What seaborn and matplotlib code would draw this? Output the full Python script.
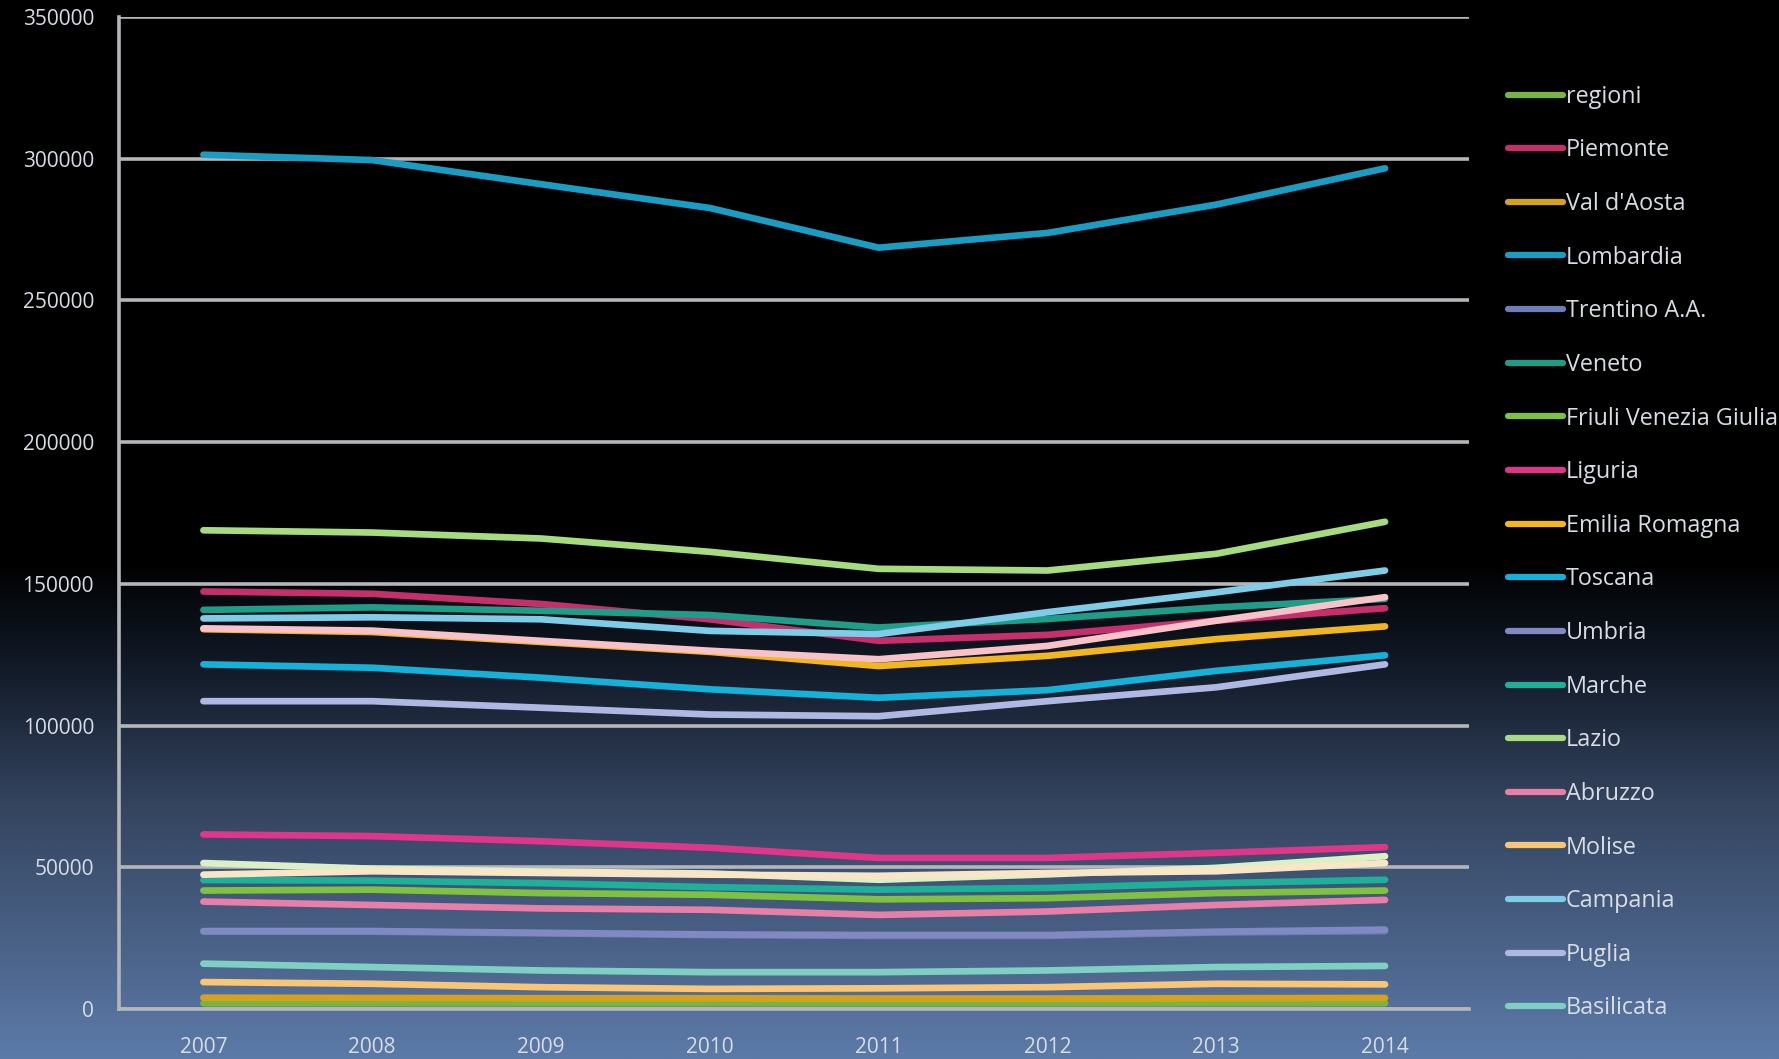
import numpy as np
import pandas as pd
import matplotlib
matplotlib.use("Agg")
import matplotlib.pyplot as plt
from matplotlib.colors import LinearSegmentedColormap
from matplotlib.ticker import FixedLocator, NullFormatter
import seaborn as sns

# ── Data ───────────────────────────────────────────────────────────────────────
anni = ["2007", "2008", "2009", "2010", "2011", "2012", "2013", "2014"]

regioni     = [2007, 2008, 2009, 2010, 2011, 2012, 2013, 2014]
piemonte    = [147300, 146500, 142900, 137500, 129900, 132000, 137000, 141400]
val_daosta  = [4000, 3900, 3800, 3800, 3700, 3700, 3800, 3900]
lombardia   = [301400, 299500, 291000, 282600, 268600, 273800, 283800, 296600]
trentino    = [27300, 27300, 26700, 26100, 25800, 25800, 27000, 27500]
veneto      = [140800, 141700, 140500, 139000, 134600, 137600, 141700, 144700]
friuli      = [41800, 42100, 40900, 40300, 38700, 39100, 40900, 41800]
liguria     = [61600, 61000, 59200, 56900, 53300, 53300, 55100, 57100]
emilia      = [134000, 133000, 129500, 126000, 121000, 124600, 130500, 135000]
toscana     = [121600, 120400, 116900, 112800, 109800, 112500, 119300, 124800]
umbria      = [27500, 27500, 26900, 26300, 26100, 26100, 27300, 28000]
marche      = [45500, 45300, 44400, 43000, 42100, 42700, 44400, 45600]
lazio       = [168900, 168100, 166000, 161300, 155300, 154700, 160600, 171900]
abruzzo     = [37900, 36700, 35500, 35000, 33200, 34400, 36700, 38500]
molise      = [9500, 8900, 7700, 7100, 7300, 7700, 8900, 8700]
campania    = [137800, 138200, 137500, 133400, 132300, 140000, 147000, 154700]
puglia      = [108600, 108600, 106300, 103900, 103300, 108600, 113500, 121600]
basilicata  = [16000, 14800, 13600, 13000, 13000, 13600, 14800, 15200]
calabria    = [51500, 49500, 48500, 47800, 45600, 47500, 49800, 53900]
sicilia     = [134300, 133500, 129900, 126400, 123400, 128100, 137000, 145300]
sardegna    = [47400, 48600, 48000, 47400, 47000, 48000, 48600, 51500]

serie = [
    ("regioni", regioni, "#78b443"),
    ("Piemonte", piemonte, "#c42f6c"),
    ("Val d'Aosta", val_daosta, "#d6a21e"),
    ("Lombardia", lombardia, "#1b9cc2"),
    ("Trentino A.A.", trentino, "#6f7fb6"),
    ("Veneto", veneto, "#1f9d88"),
    ("Friuli Venezia Giulia", friuli, "#7fc241"),
    ("Liguria", liguria, "#df3689"),
    ("Emilia Romagna", emilia, "#f2b620"),
    ("Toscana", toscana, "#16b1d8"),
    ("Umbria", umbria, "#8189c2"),
    ("Marche", marche, "#1fb09a"),
    ("Lazio", lazio, "#a6db80"),
    ("Abruzzo", abruzzo, "#e77fa8"),
    ("Molise", molise, "#f8c677"),
    ("Campania", campania, "#7fcce9"),
    ("Puglia", puglia, "#afb8e2"),
    ("Basilicata", basilicata, "#7fd0c3"),
    ("Calabria", calabria, "#dcefc6"),
    ("Sicilia", sicilia, "#f8c2c8"),
    ("Sardegna", sardegna, "#f9e6c6"),
]
N_LEGENDA = 18   # the legend in the original stops at Basilicata

# ── Style ──────────────────────────────────────────────────────────────────────
TEXT_COLOR = "#d8dce4"
GRID_COLOR = "#b4b6ba"

sns.set_style("white")
plt.rcParams["font.family"] = ["Open Sans", "DejaVu Sans"]

fig = plt.figure(figsize=(17.79, 10.59), dpi=100)

# background gradient: black on top fading to slate blue at the bottom
bg = fig.add_axes([0, 0, 1, 1], zorder=-1)
cmap = LinearSegmentedColormap.from_list(
    "bg", [(0.0, "#000000"), (0.53, "#000000"), (0.63, "#121a28"),
           (0.76, "#34445f"), (1.0, "#5c7aa8")])
bg.imshow(np.linspace(0, 1, 512).reshape(-1, 1), aspect="auto",
          cmap=cmap, extent=[0, 1, 1, 0])
bg.axis("off")

ax = fig.add_axes([0.0669, 0.0472, 0.826 - 0.0669, 0.984 - 0.0472])
ax.set_facecolor("none")

x = np.arange(len(anni))
for i, (nome, valori, colore) in enumerate(serie):
    sns.lineplot(x=x, y=valori, ax=ax, color=colore, linewidth=4.8,
                 label=nome if i < N_LEGENDA else "_nolegend_",
                 legend=False, zorder=3 + i * 0.01)

ax.set_xlim(-0.5, len(anni) - 0.5)
ax.set_ylim(0, 350000)
ax.set_yticks(np.arange(0, 350001, 50000))
ax.set_yticklabels([str(v) for v in range(0, 350001, 50000)])
ax.yaxis.grid(True, color=GRID_COLOR, linewidth=2.6)
ax.xaxis.grid(False)
ax.set_axisbelow(True)

ax.xaxis.set_major_locator(FixedLocator(np.arange(-0.5, len(anni), 1.0)))
ax.xaxis.set_major_formatter(NullFormatter())
ax.xaxis.set_minor_locator(FixedLocator(x))
ax.set_xticklabels(anni, minor=True)
ax.tick_params(axis="x", which="major", length=8, width=2, color=GRID_COLOR,
               direction="out")
ax.tick_params(axis="x", which="minor", length=0, pad=20,
               labelsize=15, labelcolor=TEXT_COLOR)
ax.tick_params(axis="y", length=8, width=2, color=GRID_COLOR,
               labelsize=15, labelcolor=TEXT_COLOR, pad=10)

for s in ["top", "right"]:
    ax.spines[s].set_visible(False)
for s in ["left", "bottom"]:
    ax.spines[s].set_color(GRID_COLOR)
    ax.spines[s].set_linewidth(2.6)
ax.set_xlabel("")
ax.set_ylabel("")

handles, labels = ax.get_legend_handles_labels()
leg = fig.legend(handles, labels, loc="upper left",
                 bbox_to_anchor=(0.8475, 0.920), frameon=False,
                 fontsize=16.8, handlelength=2.35, handletextpad=0.14,
                 labelspacing=1.27, borderpad=0, borderaxespad=0)
for t in leg.get_texts():
    t.set_color(TEXT_COLOR)
for h in leg.legend_handles:
    h.set_linewidth(4.5)

fig.savefig("out.png", dpi=100, facecolor="black")
